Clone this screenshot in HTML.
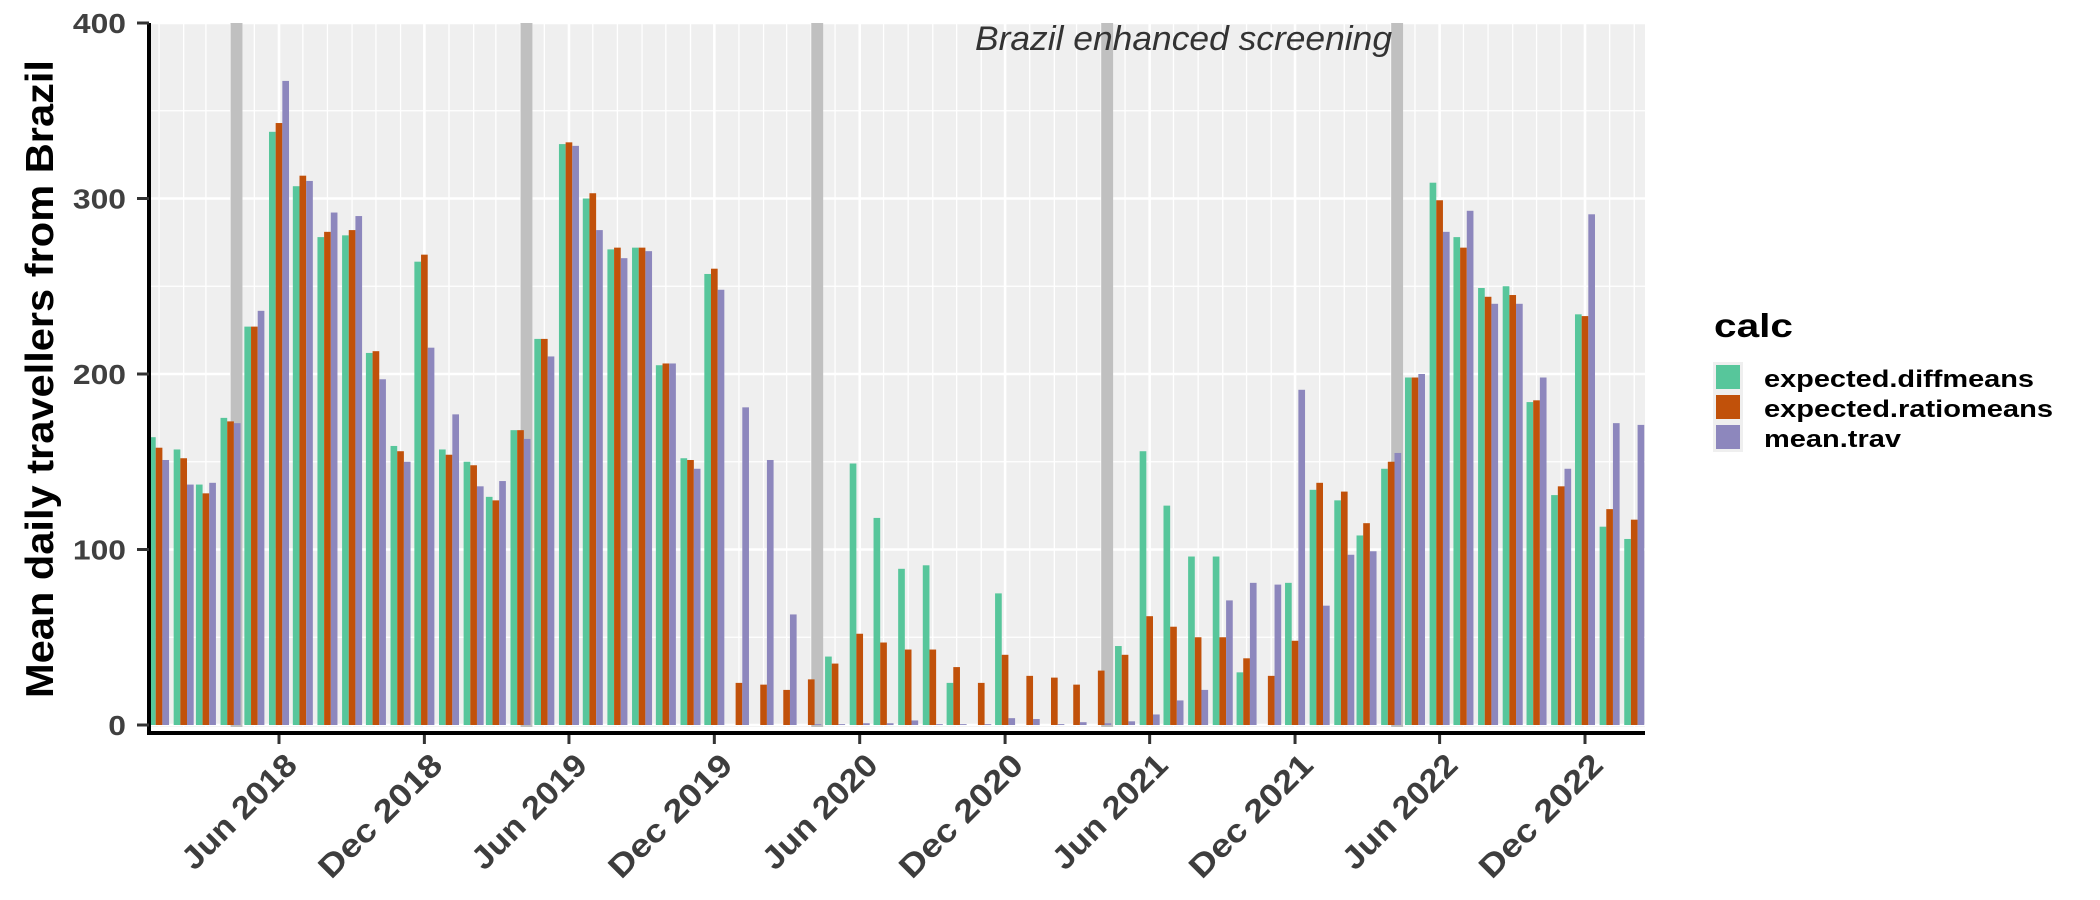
<!DOCTYPE html>
<html><head><meta charset="utf-8"><style>
html,body{margin:0;padding:0;background:#fff;}
svg{display:block;font-family:"Liberation Sans",Arial,sans-serif;}
</style></head><body>
<svg id="chart" width="2100" height="900" viewBox="0 0 2100 900" xmlns="http://www.w3.org/2000/svg">
<defs><clipPath id="panelClip"><rect x="151" y="23" width="1494" height="704"/></clipPath></defs>
<rect x="151" y="23" width="1494" height="704" fill="#efefef"/>
<g id="grid"></g>
<g id="bands" clip-path="url(#panelClip)"></g>
<g id="bars" clip-path="url(#panelClip)"></g>
<text x="975" y="50" font-size="34" font-style="italic" fill="#333" textLength="417" lengthAdjust="spacingAndGlyphs">Brazil enhanced screening</text>
<g id="axes"></g>
<text transform="translate(53,379) rotate(-90)" text-anchor="middle" font-size="39" font-weight="bold" fill="#000" textLength="638" lengthAdjust="spacingAndGlyphs">Mean daily travellers from Brazil</text>
<g>
<text x="1714" y="337" font-size="33" font-weight="bold" fill="#000" textLength="79" lengthAdjust="spacingAndGlyphs">calc</text>
<rect x="1713" y="362" width="30" height="90" fill="#efefef"/>
<rect x="1716" y="365" width="24" height="24" fill="#57c69b"/>
<rect x="1716" y="395" width="24" height="24" fill="#c1510a"/>
<rect x="1716" y="425" width="24" height="24" fill="#8d87bd"/>
<text x="1764" y="387" font-size="24" font-weight="bold" fill="#000" textLength="270" lengthAdjust="spacingAndGlyphs">expected.diffmeans</text>
<text x="1764" y="417" font-size="24" font-weight="bold" fill="#000" textLength="289" lengthAdjust="spacingAndGlyphs">expected.ratiomeans</text>
<text x="1764" y="447" font-size="24" font-weight="bold" fill="#000" textLength="137" lengthAdjust="spacingAndGlyphs">mean.trav</text>
</g>
</svg>
<script>
const months = ["2018-01","2018-02","2018-03","2018-04","2018-05","2018-06","2018-07","2018-08","2018-09","2018-10","2018-11","2018-12",
"2019-01","2019-02","2019-03","2019-04","2019-05","2019-06","2019-07","2019-08","2019-09","2019-10","2019-11","2019-12",
"2020-01","2020-02","2020-03","2020-04","2020-05","2020-06","2020-07","2020-08","2020-09","2020-10","2020-11","2020-12",
"2021-01","2021-02","2021-03","2021-04","2021-05","2021-06","2021-07","2021-08","2021-09","2021-10","2021-11","2021-12",
"2022-01","2022-02","2022-03","2022-04","2022-05","2022-06","2022-07","2022-08","2022-09","2022-10","2022-11","2022-12",
"2023-01","2023-02"];
const diffmeans = [164,157,137,175,227,338,307,278,279,212,159,264,
157,150,130,168,220,331,300,271,272,205,152,257,
0,0,0,0,39,149,118,89,91,24,0,75,
0,0,0,0,45,156,125,96,96,30,0,81,
134,128,108,146,198,309,278,249,250,184,131,234,
113,106];
const ratiomeans = [158,152,132,173,227,343,313,281,282,213,156,268,
154,148,128,168,220,332,303,272,272,206,151,260,
24,23,20,26,35,52,47,43,43,33,24,40,
28,27,23,31,40,62,56,50,50,38,28,48,
138,133,115,150,198,299,272,244,245,185,136,233,
123,117];
const meantrav = [151,137,138,172,236,367,310,292,290,197,150,215,
177,136,139,163,210,330,282,266,270,206,146,248,
181,151,63,0.5,0.5,1,1,2.6,0.5,0.5,0.5,3.9,
3.4,0.5,1.6,1,2.1,6,14,20,71,81,80,191,
68,97,99,155,200,281,293,240,240,198,146,291,
172,171];
const yTicks = [0,100,200,300,400];
const yMinor = [50,150,250,350];
const xTickDates = ["2018-06-01","2018-12-01","2019-06-01","2019-12-01","2020-06-01","2020-12-01","2021-06-01","2021-12-01","2022-06-01","2022-12-01"];
const xTickLabels = ["Jun 2018","Dec 2018","Jun 2019","Dec 2019","Jun 2020","Dec 2020","Jun 2021","Dec 2021","Jun 2022","Dec 2022"];
const bandStarts = ["2018-04-01","2019-04-01","2020-04-01","2021-04-01","2022-04-01"];
const bandEnds = ["2018-04-16","2019-04-16","2020-04-16","2021-04-16","2022-04-16"];

const NS="http://www.w3.org/2000/svg";
const origin=Date.UTC(2018,5,1), DAY=86400000, PXDAY=0.7944;
function parseD(s){const p=s.split("-").map(Number);return Date.UTC(p[0],p[1]-1,p[2]||1);}
function xScale(s){return 279+(parseD(s)-origin)/DAY*PXDAY;}
function yScale(v){return 725-v*1.755;}
function mk(tag,attrs,parent){const e=document.createElementNS(NS,tag);for(const k in attrs)e.setAttribute(k,attrs[k]);parent.appendChild(e);return e;}
const grid=document.getElementById("grid"),bands=document.getElementById("bands"),bars=document.getElementById("bars"),axes=document.getElementById("axes");
yMinor.forEach(v=>{const l=mk("line",{x1:151,x2:1645,y1:yScale(v),y2:yScale(v),stroke:"#fff","stroke-width":1.3},grid);

});
months.forEach(m=>{const x=xScale(m+"-01");if(x<151||x>1645)return;const l=mk("line",{x1:x,x2:x,y1:23,y2:727,stroke:"#fff","stroke-width":1.3},grid);

});
yTicks.forEach(v=>{const l=mk("line",{x1:151,x2:1645,y1:yScale(v),y2:yScale(v),stroke:"#fff","stroke-width":2.6},grid);

});
xTickDates.forEach(d=>{const x=xScale(d);const l=mk("line",{x1:x,x2:x,y1:23,y2:727,stroke:"#fff","stroke-width":2.6},grid);

});
bandStarts.forEach((s,i)=>{const x0=xScale(s),x1=xScale(bandEnds[i]);const r=mk("rect",{x:x0,y:23,width:x1-x0,height:704,fill:"#c0c0c0"},bands);

});
const series=[{v:diffmeans,c:"#57c69b",n:"bar-diffmeans"},{v:ratiomeans,c:"#c1510a",n:"bar-ratiomeans"},{v:meantrav,c:"#8d87bd",n:"bar-meantrav"}];
const bw=6.67;
months.forEach((m,i)=>{const cx=xScale(m+"-01");series.forEach((s,j)=>{const val=s.v[i];if(!(val>0))return;
const x=cx-1.5*bw+j*bw,y=yScale(val);const r=mk("rect",{x:x,y:y,width:bw,height:725-y,fill:s.c},bars);

});});
const ya=mk("line",{x1:149,x2:149,y1:23,y2:735,stroke:"#000","stroke-width":4},axes);


const xa=mk("line",{x1:147,x2:1645,y1:733,y2:733,stroke:"#000","stroke-width":4},axes);


yTicks.forEach(v=>{const y=yScale(v);const t=mk("line",{x1:137,x2:149,y1:y,y2:y,stroke:"#333","stroke-width":3},axes);


const s=String(v);
const lab=mk("text",{x:126,y:y+10,"text-anchor":"end","font-size":28,"font-weight":"bold",fill:"#404040",textLength:s.length*17.7,lengthAdjust:"spacingAndGlyphs"},axes);
lab.textContent=s;

});
xTickDates.forEach((d,i)=>{const x=xScale(d);const t=mk("line",{x1:x,x2:x,y1:735,y2:744,stroke:"#333","stroke-width":3},axes);


const lab=mk("text",{transform:`translate(${x+20},767) rotate(-45)`,"text-anchor":"end","font-size":32,"font-weight":"bold",fill:"#3d3d3d",textLength:xTickLabels[i].startsWith("Jun")?148:160,lengthAdjust:"spacingAndGlyphs"},axes);
lab.textContent=xTickLabels[i];

});
</script>
</body></html>
